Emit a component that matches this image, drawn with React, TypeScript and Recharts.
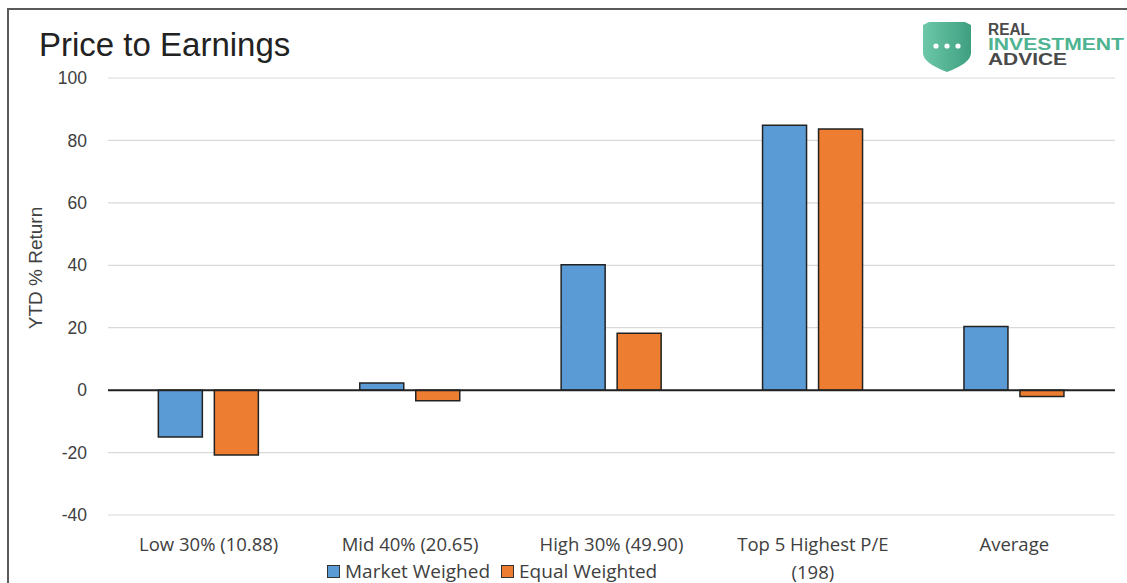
import React from 'react';
import { Bar, BarChart, CartesianGrid, ReferenceLine, XAxis, YAxis } from 'recharts';

const categories = ['Low 30% (10.88)', 'Mid 40% (20.65)', 'High 30% (49.90)', 'Top 5 Highest P/E\n(198)', 'Average'];
const marketWeighed = [-15, 2.3, 40.2, 84.9, 20.4];
const equalWeighted = [-20.8, -3.4, 18.2, 83.7, -2];
const yTicks = [-40, -20, 0, 20, 40, 60, 80, 100];

const BLUE = '#5b9bd5';
const ORANGE = '#ed7d31';
const LABEL_FONT = '"Open Sans", "Liberation Sans", sans-serif';
const TICK_FONT = '"Liberation Sans", Arial, sans-serif';

const data = categories.map((c, i) => ({ name: c, market: marketWeighed[i], equal: equalWeighted[i] }));

function CategoryTick(props: any) {
  const { x, y, payload } = props;
  const lines = String(payload.value).split('\n');
  return (
    <text x={x} y={y} textAnchor="middle" fill="#404040" fontSize={18.5} fontFamily={LABEL_FONT}>
      {lines.map((l, i) => (
        <tspan key={i} x={x} dy={28}>
          {l}
        </tspan>
      ))}
    </text>
  );
}

function ChartLegend() {
  const items = [
    { label: 'Market Weighed', color: BLUE },
    { label: 'Equal Weighted', color: ORANGE },
  ];
  return (
    <div style={{ position: 'absolute', left: 327, top: 562, display: 'flex', gap: 11, fontFamily: LABEL_FONT, fontSize: 19, lineHeight: '19px', color: '#404040' }}>
      {items.map((it) => (
        <div key={it.label} style={{ display: 'flex', alignItems: 'center' }}>
          <span style={{ width: 11, height: 11, background: it.color, border: '1.5px solid #333', marginRight: 5, display: 'inline-block' }} />
          {it.label}
        </div>
      ))}
    </div>
  );
}

function Logo() {
  return (
    <svg width={212} height={60} style={{ position: 'absolute', left: 915, top: 19 }}>
      <defs>
        <linearGradient id="sh" x1="0" x2="1" y1="0" y2="0">
          <stop offset="0" stopColor="#6cc8a8" />
          <stop offset="1" stopColor="#3e9f80" />
        </linearGradient>
      </defs>
      <path d="M8 6 L14 3 L50 3 L56 6 L56 34 Q56 44 32 53 Q8 44 8 34 Z" fill="url(#sh)" />
      <circle cx={21} cy={27} r={2.6} fill="#fff" />
      <circle cx={32} cy={27} r={2.6} fill="#fff" />
      <circle cx={43} cy={27} r={2.6} fill="#fff" />
      <g fontFamily='"Liberation Sans", Arial, sans-serif' fontWeight="bold" fontSize={16}>
        <text x={73} y={16} fill="#4a4a4a" textLength={42} lengthAdjust="spacingAndGlyphs">REAL</text>
        <text x={73} y={31} fill="#4db391" textLength={136} lengthAdjust="spacingAndGlyphs">INVESTMENT</text>
        <text x={73} y={46} fill="#4a4a4a" textLength={79} lengthAdjust="spacingAndGlyphs">ADVICE</text>
      </g>
    </svg>
  );
}

export default function App() {
  return (
    <div style={{ position: 'relative', width: 1127, height: 583, overflow: 'hidden', background: '#fff' }}>
      <style>{'body{margin:0;overflow:hidden}'}</style>
      <div style={{ position: 'absolute', left: 7, top: 8, width: 1200, height: 700, border: '2.5px solid #5a5a5a' }} />
      <div style={{ position: 'absolute', left: 39, top: 26, fontFamily: TICK_FONT, fontSize: 33, lineHeight: '38px', color: '#222' }}>Price to Earnings</div>
      <Logo />
      <svg width={60} height={583} style={{ position: 'absolute', left: 0, top: 0 }}>
        <text
          x={35}
          y={268}
          transform="rotate(-90 35 268)"
          textAnchor="middle"
          dominantBaseline="central"
          fontSize={19}
          fill="#404040"
          fontFamily={TICK_FONT}
        >
          YTD % Return
        </text>
      </svg>
      <div style={{ position: 'absolute', left: 0, top: 0 }}>
        <BarChart
          width={1127}
          height={583}
          data={data}
          margin={{ top: 78, right: 12, bottom: 0, left: 0 }}
          barCategoryGap="25%"
          barGap={12}
        >
          <CartesianGrid horizontal vertical={false} stroke="#d9d9d9" strokeWidth={1.2} />
          <XAxis dataKey="name" axisLine={false} tickLine={false} tick={<CategoryTick />} interval={0} height={68} />
          <YAxis
            width={108}
            domain={[-40, 100]}
            ticks={yTicks}
            axisLine={false}
            tickLine={false}
            tick={{ fontSize: 17.5, fill: '#404040', fontFamily: TICK_FONT }}
            tickMargin={15}
          />
          <ReferenceLine y={0} stroke="#222" strokeWidth={2} />
          <Bar dataKey="market" name="Market Weighed" fill={BLUE} stroke="#222" strokeWidth={1.5} isAnimationActive={false} />
          <Bar dataKey="equal" name="Equal Weighted" fill={ORANGE} stroke="#222" strokeWidth={1.5} isAnimationActive={false} />
        </BarChart>
      </div>
      <ChartLegend />
    </div>
  );
}
